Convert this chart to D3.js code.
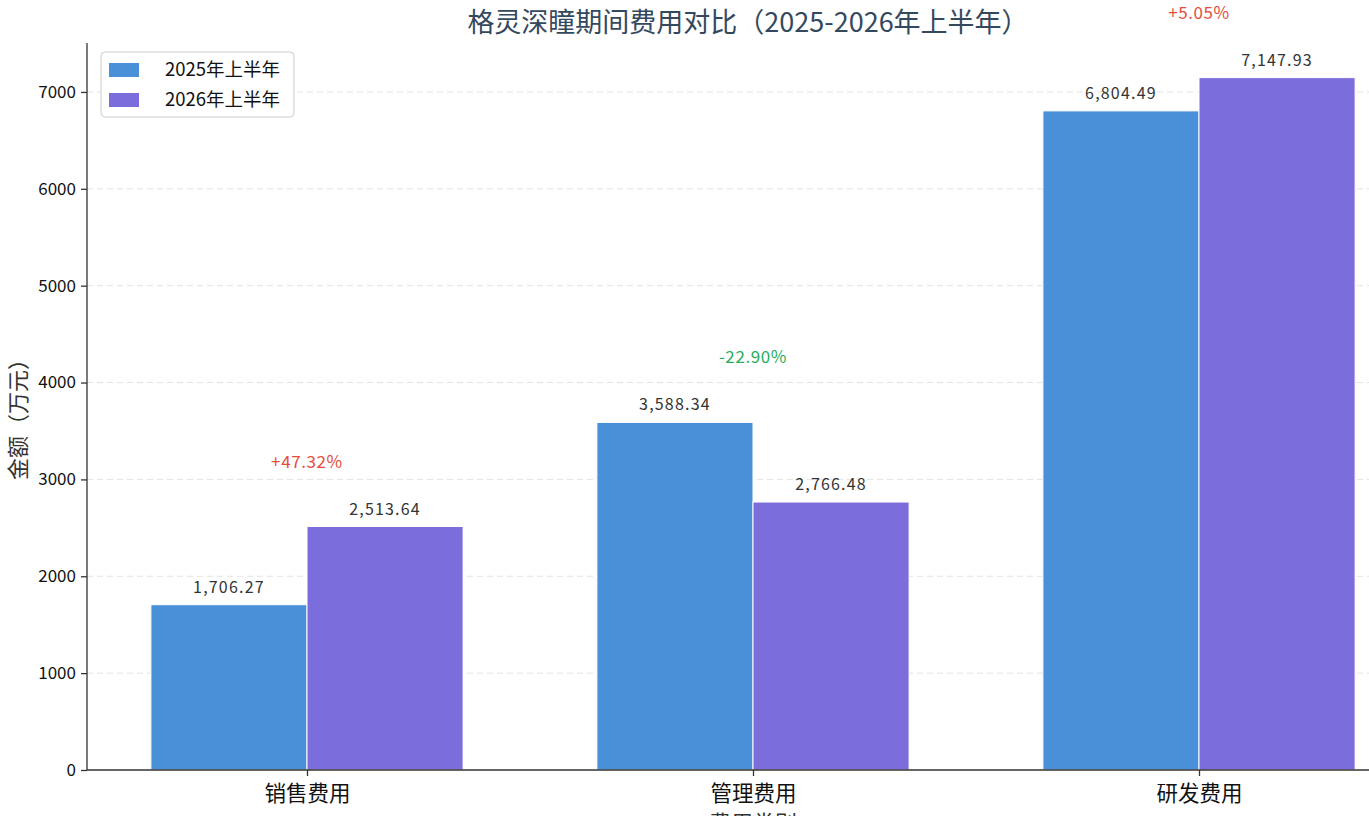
<!DOCTYPE html>
<html>
<head>
<meta charset="utf-8">
<script src="https://cdn.jsdelivr.net/npm/d3@7"></script>
<style>
  body { margin: 0; background: #fff; }
  svg text { font-family: "Noto Sans CJK SC", "Noto Sans", sans-serif; }
</style>
</head>
<body>
<div id="chart"></div>
<script>
// data
const categories = ["销售费用", "管理费用", "研发费用"];
const seriesNames = ["2025年上半年", "2026年上半年"];
const values2025 = [1706.27, 3588.34, 6804.49];
const values2026 = [2513.64, 2766.48, 7147.93];
const changeLabels = ["+47.32%", "-22.90%", "+5.05%"];
const yTicks = [0, 1000, 2000, 3000, 4000, 5000, 6000, 7000];

const width = 1369, height = 816;
const colors = ["#4a90d9", "#7b6ddb"];

const svg = d3.select("#chart").append("svg")
    .attr("width", width).attr("height", height);

const yMax = d3.max(values2026.concat(values2025)) * 1.05;
const y = d3.scaleLinear().domain([0, yMax]).range([770, 43]);
// category index -> centre pixel
const x = d3.scaleLinear().domain([0, 2]).range([307, 1199]);
const barW = 0.35 * (x(1) - x(0));

// grid
svg.append("g").selectAll("line").data(yTicks.slice(1)).join("line")
    .attr("x1", 87).attr("x2", width)
    .attr("y1", d => y(d)).attr("y2", d => y(d))
    .attr("stroke", "#e3e3e3").attr("stroke-dasharray", "6,4").attr("stroke-width", 1);

// bars
const series = [values2025, values2026];
series.forEach((vals, s) => {
    svg.append("g").selectAll("rect").data(vals).join("rect")
        .attr("x", (d, i) => x(i) + (s === 0 ? -barW : 0))
        .attr("y", d => y(d))
        .attr("width", barW)
        .attr("height", d => y(0) - y(d))
        .attr("fill", colors[s])
        .attr("stroke", "#fff").attr("stroke-width", 1);

    svg.append("g").selectAll("text").data(vals).join("text")
        .attr("x", (d, i) => x(i) + (s === 0 ? -barW / 2 : barW / 2))
        .attr("y", d => y(d) - 12)
        .attr("text-anchor", "middle")
        .attr("font-size", 16).attr("letter-spacing", 1.2).attr("fill", "#333")
        .text(d => d3.format(",.2f")(d));
});

// change labels
svg.append("g").selectAll("text").data(changeLabels).join("text")
    .attr("x", (d, i) => x(i))
    .attr("y", (d, i) => y(Math.max(values2025[i], values2026[i]) + 670))
    .attr("dy", "0.35em")
    .attr("text-anchor", "middle")
    .attr("font-size", 17).attr("letter-spacing", 0.6)
    .attr("fill", d => d.startsWith("-") ? "#27ae60" : "#e74c3c")
    .text(d => d);

// axes
const yAxis = svg.append("g").attr("transform", "translate(87,0)")
    .call(d3.axisLeft(y).tickValues(yTicks).tickFormat(d3.format("d")).tickSize(6).tickPadding(5));
yAxis.select(".domain").attr("d", `M0,${y(yMax)}V${y(0)}`).attr("stroke", "#333").attr("stroke-width", 1.3);
yAxis.selectAll(".tick line").attr("stroke", "#333").attr("stroke-width", 1.3);
yAxis.selectAll(".tick text").attr("font-size", 17).attr("fill", "#111")
    .style("font-family", "'Noto Sans CJK SC', sans-serif");

const xAxis = svg.append("g").attr("transform", `translate(0,${y(0)})`)
    .call(d3.axisBottom(x).tickValues([0, 1, 2]).tickFormat(i => categories[i]).tickSize(6).tickPadding(10));
xAxis.select(".domain").attr("d", `M87,0H${width}`).attr("stroke", "#333").attr("stroke-width", 1.3);
xAxis.selectAll(".tick line").attr("stroke", "#333").attr("stroke-width", 1.3);
xAxis.selectAll(".tick text").attr("font-size", 21.5).attr("fill", "#111")
    .style("font-family", "'Noto Sans CJK SC', sans-serif");

// axis titles
svg.append("text")
    .attr("transform", "translate(18,414) rotate(-90)")
    .attr("dy", "0.35em")
    .attr("text-anchor", "middle").attr("font-size", 22).attr("fill", "#333")
    .text("金额（万元）");
svg.append("text")
    .attr("x", x(1)).attr("y", 831)
    .attr("text-anchor", "middle").attr("font-size", 22).attr("fill", "#333")
    .text("费用类别");

// title
svg.append("text")
    .attr("x", 748).attr("y", 32)
    .attr("text-anchor", "middle").attr("font-size", 27).attr("fill", "#34495e")
    .text("格灵深瞳期间费用对比（2025-2026年上半年）");

// legend
const legend = svg.append("g").attr("transform", "translate(101,52)");
legend.append("rect")
    .attr("width", 193).attr("height", 65).attr("rx", 4)
    .attr("fill", "#fff").attr("fill-opacity", 0.85)
    .attr("stroke", "#ccc");
seriesNames.forEach((name, i) => {
    const g = legend.append("g").attr("transform", `translate(8,${11 + i * 30})`);
    g.append("rect").attr("width", 30).attr("height", 14).attr("fill", colors[i]);
    g.append("text").attr("x", 56).attr("y", 7).attr("dy", "0.35em")
        .attr("font-size", 18.5).attr("fill", "#111").text(name);
});
</script>
</body>
</html>
